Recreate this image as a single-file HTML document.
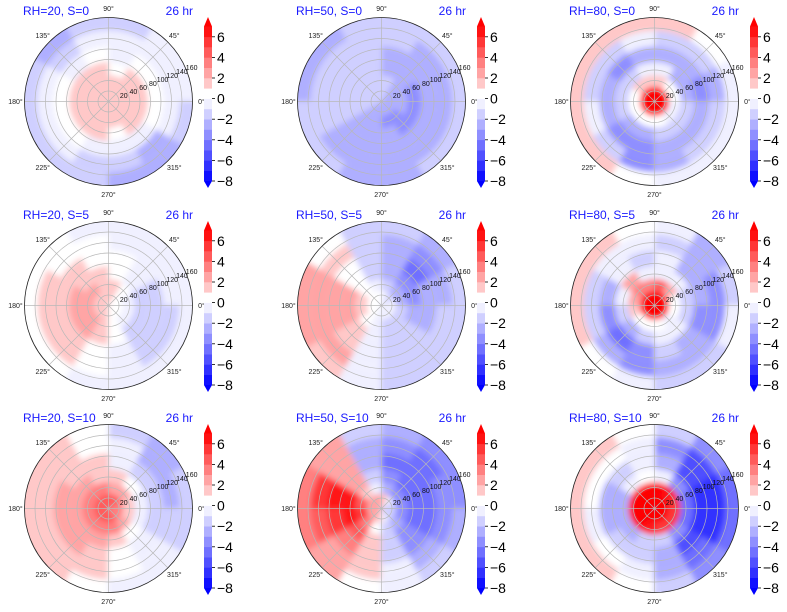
<!DOCTYPE html>
<html><head><meta charset="utf-8"><style>
html,body{margin:0;padding:0;background:#fff;}
svg{display:block;font-family:"Liberation Sans","DejaVu Sans",sans-serif;}
</style></head><body>
<svg id="fig" width="787" height="612" viewBox="0 0 787 612">
<defs><filter id="blur" x="-10%" y="-10%" width="120%" height="120%"><feGaussianBlur stdDeviation="3"/></filter></defs>
</svg>
<script>
// radial bin edges (data units) and sector centers (degrees)
const radialEdges = [0,28,50,75,105,135,160];
const sectorCenters = [15,45,75,105,135,165,195,225,255,285,315,345];
const titles = ["RH=20, S=0","RH=50, S=0","RH=80, S=0","RH=20, S=5","RH=50, S=5","RH=80, S=5","RH=20, S=10","RH=50, S=10","RH=80, S=10"];
const timeLabel = "26 hr";
const cbTicks = [6,4,2,0,-2,-4,-6,-8];
const rTicks = [20,40,60,80,100,120,140,160];
const thetaTicks = [0,45,90,135,180,225,270,315];
const p1 = [[1.5,1.5,1.5,1.5,1.5,1.5,1.5,1.5,1.5,1.5,1.5,1.5],[1.5,1.5,1,1.5,1.5,1.5,1.5,1.5,1,1,1.5,1.5],[1,1,0.5,1,1.5,1.5,1,1.5,1,0.5,1,1],[0.5,0,-0.5,0,-0.5,0.5,0.5,0,-0.5,-0.5,-1,0],[-0.5,-0.5,-1,-1,-1.5,-1,-1,-1,-1.5,-2,-2.5,-1],[-1,-1,-1.5,-1.5,-2.5,-2,-1.5,-1.5,-2,-2.5,-3,-2]];
const p2 = [[-3,-2.5,-2,-2,-2,-2,-2,-2.5,-3,-3,-3,-3],[-3,-3,-2,-1.5,-1.5,-2,-2,-2.5,-3,-3.5,-3.5,-3],[-3.5,-3,-2.5,-1.5,-1.5,-2,-2,-2.5,-3,-3,-3.5,-3.5],[-3,-3,-2.5,-1.5,-1.5,-2,-2,-2.5,-2.5,-2.5,-3,-3],[-2.5,-2.5,-2,-1.5,-2,-2,-2,-2.5,-2.5,-2.5,-2.5,-2.5],[-2,-2,-2,-2,-2.5,-2.5,-2,-2,-2.5,-2.5,-2,-2]];
const p3 = [[7,7,7,7,7,7,7,7,7,7,7,7],[0,0,1,1,1,0,0,0,0,0,-1,-1],[-3,-3,-1,-1,-2,-2,-2,-3,-3,-2,-2,-2],[-4,-3,-3,-3,-4,-3,-3,-4,-4,-3,-3,-3],[-3,-2,-2,-1,-2,-2,-1,-2,-4,-3,-2,-2],[-1,0,1.5,1.5,1,1.5,1,1,0,-1,-1,-1]];
const p4 = [[0,0.5,1,1.5,1.5,1.5,1.5,1,1,0.5,0,0],[-1,0,1,1.5,2,2,2,2,1.5,0.5,-1,-1],[-1.5,-0.5,0.5,1,1.5,2,2,2,1,0,-1.5,-2],[-1.5,-1,0,0.5,1,1.5,1.5,1.5,0.5,-1,-1.5,-2],[-1,-1,-0.5,0,0.5,1,1,1,0,-1,-1.5,-1.5],[-0.5,-1,-1,-0.5,0,0.5,0.5,0.5,-0.5,-1,-1,-1]];
const p5 = [[-1,-2,-1,0,0.5,0.5,0,0,-0.5,-1,-1,-1],[-3,-3,-2,-1,0,1,1,0,-1,-1.5,-2,-2],[-4,-4,-3,-1.5,0,2,2,1,-1,-2,-2,-2.5],[-3,-5,-3,-1.5,0.5,2.5,2.5,1.5,-1,-2,-2,-2.5],[-2.5,-4,-3,-1.5,1,2,2,2,-1,-2,-2,-2],[-2,-2.5,-2,-1.5,0,2,2,1,-1,-1.5,-2,-2]];
const p6 = [[7,7,7,7,7,7,7,7,7,7,7,7],[0,2,4,3,3,2,1,0,0,0,-1,0],[-2,-1,-1,-1,2,-1,-2,-3,-2,-1,-1,-2],[-3,-3,-1,-2,-1,-3,-4,-5,-4,-2,-3,-4],[-4,-3,-2,-1,-1,-2,-2,-3,-4,-3,-3,-4],[-2,-3,-1,0,1,1,1,0,-1,-2,-2,-1]];
const p7 = [[3,4,4,4,4,4,4,4,4,4,3,3],[1,2,2,3,3,3,3,3,3,3,2,1],[-1,0,1,1.5,2,2.5,2.5,2.5,2,1.5,0,-1],[-2,-1.5,-0.5,1,1.5,2,2,2,1.5,0.5,-1,-1.5],[-2.5,-2.5,-1,0.5,1.5,1.5,1.5,1.5,1,0,-1,-2],[-2,-2.5,-2,0,1,1,1,1,0.5,-0.5,-1,-1.5]];
const p8 = [[-2,-1,1,2,2,2,2,2,1,-1,-2,-2],[-4,-4,-3,-1,1,4,5,3,0,-2,-3,-4],[-5,-5,-4,-2,2,6,6,4,1,-2,-4,-5],[-5,-5,-5,-3,2,6,5,3,1,-2,-4,-5],[-4,-5,-4,-3,2,5,4,2,1,-1,-3,-4],[-4,-4,-3,-2,2,3,3,2,0,-1,-2,-3]];
const p9 = [[7,7,7,7,7,7,7,7,7,7,7,7],[5,6,7,7,7,7,7,7,6,5,5,5],[-5,-4,-1,0,-1,-3,-3,-3,-2,-2,-4,-5],[-7,-6,-3,-1,-2,-3,-3,-2,-2,-3,-6,-7],[-7,-6,-4,-1,0,0,-1,0,-1,-3,-5,-7],[-5,-4,-2,0,1,1,1,1,0,-2,-4,-5]];
const panels = [p1,p2,p3,p4,p5,p6,p7,p8,p9];

const NS="http://www.w3.org/2000/svg";
const svg=document.getElementById('fig');
const R=84, RMAX=160;
function mk(tag,attrs,parent){const e=document.createElementNS(NS,tag);for(const k in attrs)e.setAttribute(k,attrs[k]);parent.appendChild(e);return e;}
function color(v){
  const b=Math.floor(v)+0.5;
  let r,g,bl;
  if(v>=0&&v<1){return 'rgb(255,255,255)';}
  if(v<0&&v>=-1){return 'rgb(240,240,255)';}
  if(b<0){const t=Math.min(1,-b/8);r=g=Math.round(255*(1-t));bl=255;}
  else{const s=Math.min(1,b/7);r=255;g=bl=Math.round(255*(1-s));}
  return `rgb(${r},${g},${bl})`;
}
function rs(r){return r/RMAX*R;}
function sectorPath(cx,cy,r0,r1,a0,a1){
  const p=(r,a)=>[cx+r*Math.cos(a*Math.PI/180),cy-r*Math.sin(a*Math.PI/180)];
  const A=p(r1,a0),B=p(r1,a1),C=p(r0,a1),D=p(r0,a0);
  return `M${A[0]},${A[1]} A${r1},${r1} 0 0 0 ${B[0]},${B[1]} L${C[0]},${C[1]} A${r0},${r0} 0 0 1 ${D[0]},${D[1]} Z`;
}
const cbY=v=>181-(v+8)*10.3;
panels.forEach((data,i)=>{
  const col=i%3,row=Math.floor(i/3);
  const ox=col*273, oy=[0,204,407][row];
  const cx=108.5+ox, cy=101.5+oy;
  const g=mk('g',{},svg);
  
  
  const cid='clip'+i;
  const cp=mk('clipPath',{id:cid},g); mk('circle',{cx,cy,r:R},cp);
  const field=mk('g',{'clip-path':`url(#${cid})`},g);
  const inner=mk('g',{filter:'url(#blur)'},field);
  mk('circle',{cx,cy,r:R+6,fill:color(data[5][0])},inner);
  data.forEach((ring,ri)=>{
    ring.forEach((v,si)=>{
      const a=sectorCenters[si];
      const r0=rs(radialEdges[ri]), r1=ri==5?R+6:rs(radialEdges[ri+1]);
      let e;
      if(ri>0){e=mk('path',{d:sectorPath(cx,cy,r0,r1,a-15.5,a+15.5),fill:color(v)},inner);}
      else{e=mk('path',{d:`M${cx},${cy} L${cx+r1*Math.cos((a-15.5)*Math.PI/180)},${cy-r1*Math.sin((a-15.5)*Math.PI/180)} A${r1},${r1} 0 0 0 ${cx+r1*Math.cos((a+15.5)*Math.PI/180)},${cy-r1*Math.sin((a+15.5)*Math.PI/180)} Z`,fill:color(v)},inner);}
      
      
    });
  });
  rTicks.slice(0,-1).forEach(r=>mk('circle',{cx,cy,r:rs(r),fill:'none',stroke:'#b8b8b8','stroke-width':0.7},g));
  thetaTicks.forEach(a=>{const t=a*Math.PI/180;mk('line',{x1:cx,y1:cy,x2:cx+R*Math.cos(t),y2:cy-R*Math.sin(t),stroke:'#b8b8b8','stroke-width':0.7},g);});
  const outline=mk('circle',{cx,cy,r:R,fill:'none',stroke:'#222','stroke-width':0.8},g);
  
  
  thetaTicks.forEach(a=>{const t=a*Math.PI/180;const lr=R+9;
    const tx=mk('text',{x:cx+lr*Math.cos(t),y:cy-lr*Math.sin(t)+2.5,'font-size':7,'text-anchor':'middle',fill:'#222'},g);tx.textContent=a+'°';
    
    });
  rTicks.forEach(r=>{const t=22.5*Math.PI/180;const rr=rs(r)+6;
    const tx=mk('text',{x:cx+rr*Math.cos(t),y:cy-rr*Math.sin(t)+3,'font-size':7,fill:'#111','text-anchor':'middle'},g);tx.textContent=r;
    
    });
  const t1=mk('text',{x:23+ox,y:15+oy,'font-size':12,fill:'#1a1aff'},g);t1.textContent=titles[i];
  
  
  const t2=mk('text',{x:193+ox,y:15+oy,'font-size':12,fill:'#1a1aff','text-anchor':'end'},g);t2.textContent=timeLabel;
  
  
  const cb=mk('g',{transform:`translate(${ox},${oy})`},g);
  
  
  const x0=204,w=8;
  for(let v=-8;v<7;v++){mk('rect',{x:x0,y:cbY(v+1),width:w,height:cbY(v)-cbY(v+1)+0.3,fill:color(v+0.5)},cb);}
  mk('polygon',{points:`${x0},${cbY(7)} ${x0+w/2},17 ${x0+w},${cbY(7)}`,fill:'#ff0000'},cb);
  mk('polygon',{points:`${x0},${cbY(-8)} ${x0+w/2},188 ${x0+w},${cbY(-8)}`,fill:'#0000ff'},cb);
  cbTicks.forEach(v=>{mk('line',{x1:x0+w,y1:cbY(v),x2:x0+w+3,y2:cbY(v),stroke:'#000','stroke-width':0.8},cb);
    const tx=mk('text',{x:x0+w+5,y:cbY(v)+5,'font-size':14,fill:'#000'},cb);tx.textContent=(v<0?'−':'')+Math.abs(v);
    
    });
});
</script>
</body></html>
